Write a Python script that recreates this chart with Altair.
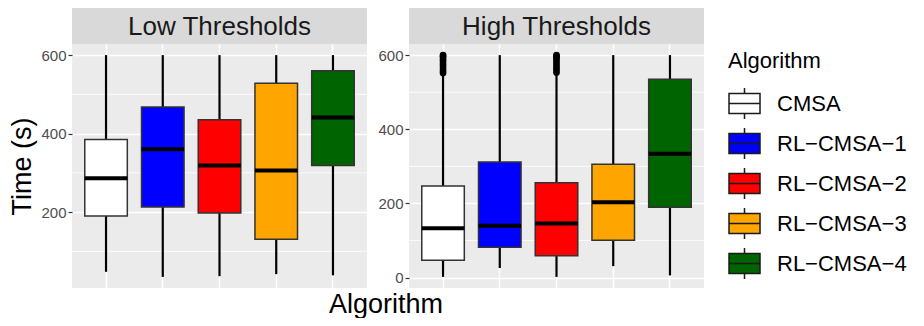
import altair as alt
import pandas as pd

FONT = "Liberation Sans"

algorithms = ["CMSA", "RL\u2212CMSA\u22121", "RL\u2212CMSA\u22122", "RL\u2212CMSA\u22123", "RL\u2212CMSA\u22124"]
colors = ["#FFFFFF", "#0000FF", "#FF0000", "#FFA500", "#006400"]

# Low Thresholds panel (box statistics, seconds)
low_min = [48, 35, 37, 42, 39]
low_q1 = [190, 213, 198, 131, 319]
low_med = [286, 360, 319, 306, 441]
low_q3 = [385, 468, 435, 528, 560]
low_max = [600, 600, 600, 600, 600]

# High Thresholds panel
high_min = [2, 26, 2, 31, 6]
high_q1 = [47, 82, 59, 101, 190]
high_med = [133, 140, 146, 203, 334]
high_q3 = [247, 312, 256, 306, 535]
high_max = [545, 600, 548, 600, 600]

# outliers (High Thresholds)
high_out_algo = ["CMSA"] * 9 + ["RL\u2212CMSA\u22122"] * 9
high_out_val = [552, 558, 565, 572, 579, 586, 592, 597, 600,
                553, 560, 566, 573, 580, 587, 593, 597, 600]

low_ticks = [200, 400, 600]
low_minor = [100, 300, 500]
high_ticks = [0, 200, 400, 600]
high_minor = [100, 300, 500]

W, H = 295, 244
STRIP = 36


def stats_df(mn, q1, med, q3, mx):
    return pd.DataFrame({"algo": algorithms, "min": mn, "q1": q1, "med": med, "q3": q3, "max": mx})


def panel(title, df, out_df, ticks, minor, show_title):
    lo = min(df["min"].min(), out_df["v"].min() if len(out_df) else 1e9)
    hi = max(df["max"].max(), out_df["v"].max() if len(out_df) else -1e9)
    ext = 0.05 * (hi - lo)
    yscale = alt.Scale(domain=[lo - ext, hi + ext], nice=False, zero=False)
    yaxis = alt.Axis(values=ticks, grid=True, gridColor="white", gridWidth=1.5,
                     tickColor="#333333", tickWidth=1.2, tickSize=4, domain=False,
                     labelColor="#4D4D4D", labelFontSize=15, labelPadding=2,
                     titleFontSize=27, titleColor="black", titleFontWeight="normal",
                     titlePadding=4)
    ytitle = "Time (s)" if show_title else None
    xscale = alt.Scale(domain=algorithms, paddingInner=0, paddingOuter=0.1)
    xaxis = alt.Axis(labels=False, ticks=False, domain=False, grid=True,
                     gridColor="white", gridWidth=1.5, title=None, bandPosition=0.5)
    xenc = alt.X("algo:N", scale=xscale, axis=xaxis, sort=algorithms)

    def Y(field):
        return alt.Y(f"{field}:Q", scale=yscale, axis=yaxis, title=ytitle)

    minor_l = alt.Chart(pd.DataFrame({"min": minor})).mark_rule(
        color="white", strokeWidth=0.8).encode(y=Y("min"))
    whisk = alt.Chart(df).mark_rule(color="black", strokeWidth=2.2).encode(
        x=xenc, y=Y("min"), y2="max:Q")
    box = alt.Chart(df).mark_bar(width={"band": 0.75}, stroke="#333333", strokeWidth=1.5).encode(
        x=xenc, y=Y("q1"), y2="q3:Q",
        fill=alt.Fill("algo:N", scale=alt.Scale(domain=algorithms, range=colors),
                      legend=alt.Legend(title="Algorithm", orient="none", legendX=656, legendY=7,
                                        symbolType="M-1,-0.65H1V0.65H-1ZM-1,0H1M0,-1V-0.65M0,0.65V1",
                                        symbolSize=961, symbolStrokeColor="#1A1A1A",
                                        symbolStrokeWidth=1.5, symbolOpacity=1,
                                        labelFontSize=22, titleFontSize=22, titleFontWeight="normal",
                                        labelColor="black", titleColor="black", rowPadding=3,
                                        labelOffset=16, titlePadding=14, labelLimit=300)))
    med = alt.Chart(df).mark_tick(color="black", thickness=4, size=42.5, opacity=1).encode(
        x=xenc, y=Y("med"))
    layers = [minor_l, whisk, box, med]
    if len(out_df):
        outl = alt.Chart(out_df).mark_circle(size=45, color="black", opacity=1).encode(
            x=alt.X("algo:N", scale=xscale, axis=xaxis, sort=algorithms), y=Y("v"))
        layers.append(outl)
    sdf = pd.DataFrame({"panel": [title]})
    srect = alt.Chart(sdf).mark_rect(fill="#D9D9D9").encode(
        x=alt.value(0), x2=alt.value(W), y=alt.value(-STRIP), y2=alt.value(0))
    stext = alt.Chart(sdf).mark_text(fontSize=26, font=FONT, color="#1A1A1A", baseline="middle").encode(
        x=alt.value(W / 2), y=alt.value(-STRIP / 2 + 1), text="panel:N")
    layers += [srect, stext]
    return alt.layer(*layers).properties(width=W, height=H)


low_df = stats_df(low_min, low_q1, low_med, low_q3, low_max)
high_df = stats_df(high_min, high_q1, high_med, high_q3, high_max)
low_out = pd.DataFrame({"algo": [], "v": []})
high_out = pd.DataFrame({"algo": high_out_algo, "v": high_out_val})

left = panel("Low Thresholds", low_df, low_out, low_ticks, low_minor, True)
right = panel("High Thresholds", high_df, high_out, high_ticks, high_minor, False)

chart = alt.hconcat(left, right, spacing=9).resolve_scale(
    y="independent", x="independent", fill="shared"
).properties(
    title=alt.TitleParams("Algorithm", orient="bottom", anchor="middle", fontSize=27,
                          fontWeight="normal", color="black", font=FONT, offset=4, dx=-72),
    padding=0,
).configure(
    font=FONT
).configure_view(stroke=None, fill="#EBEBEB").configure_axis(
    labelFont=FONT, titleFont=FONT
).configure_legend(
    labelFont=FONT, titleFont=FONT, padding=0
)

chart.save("out.html", embed_options={"renderer": "svg", "actions": False})
